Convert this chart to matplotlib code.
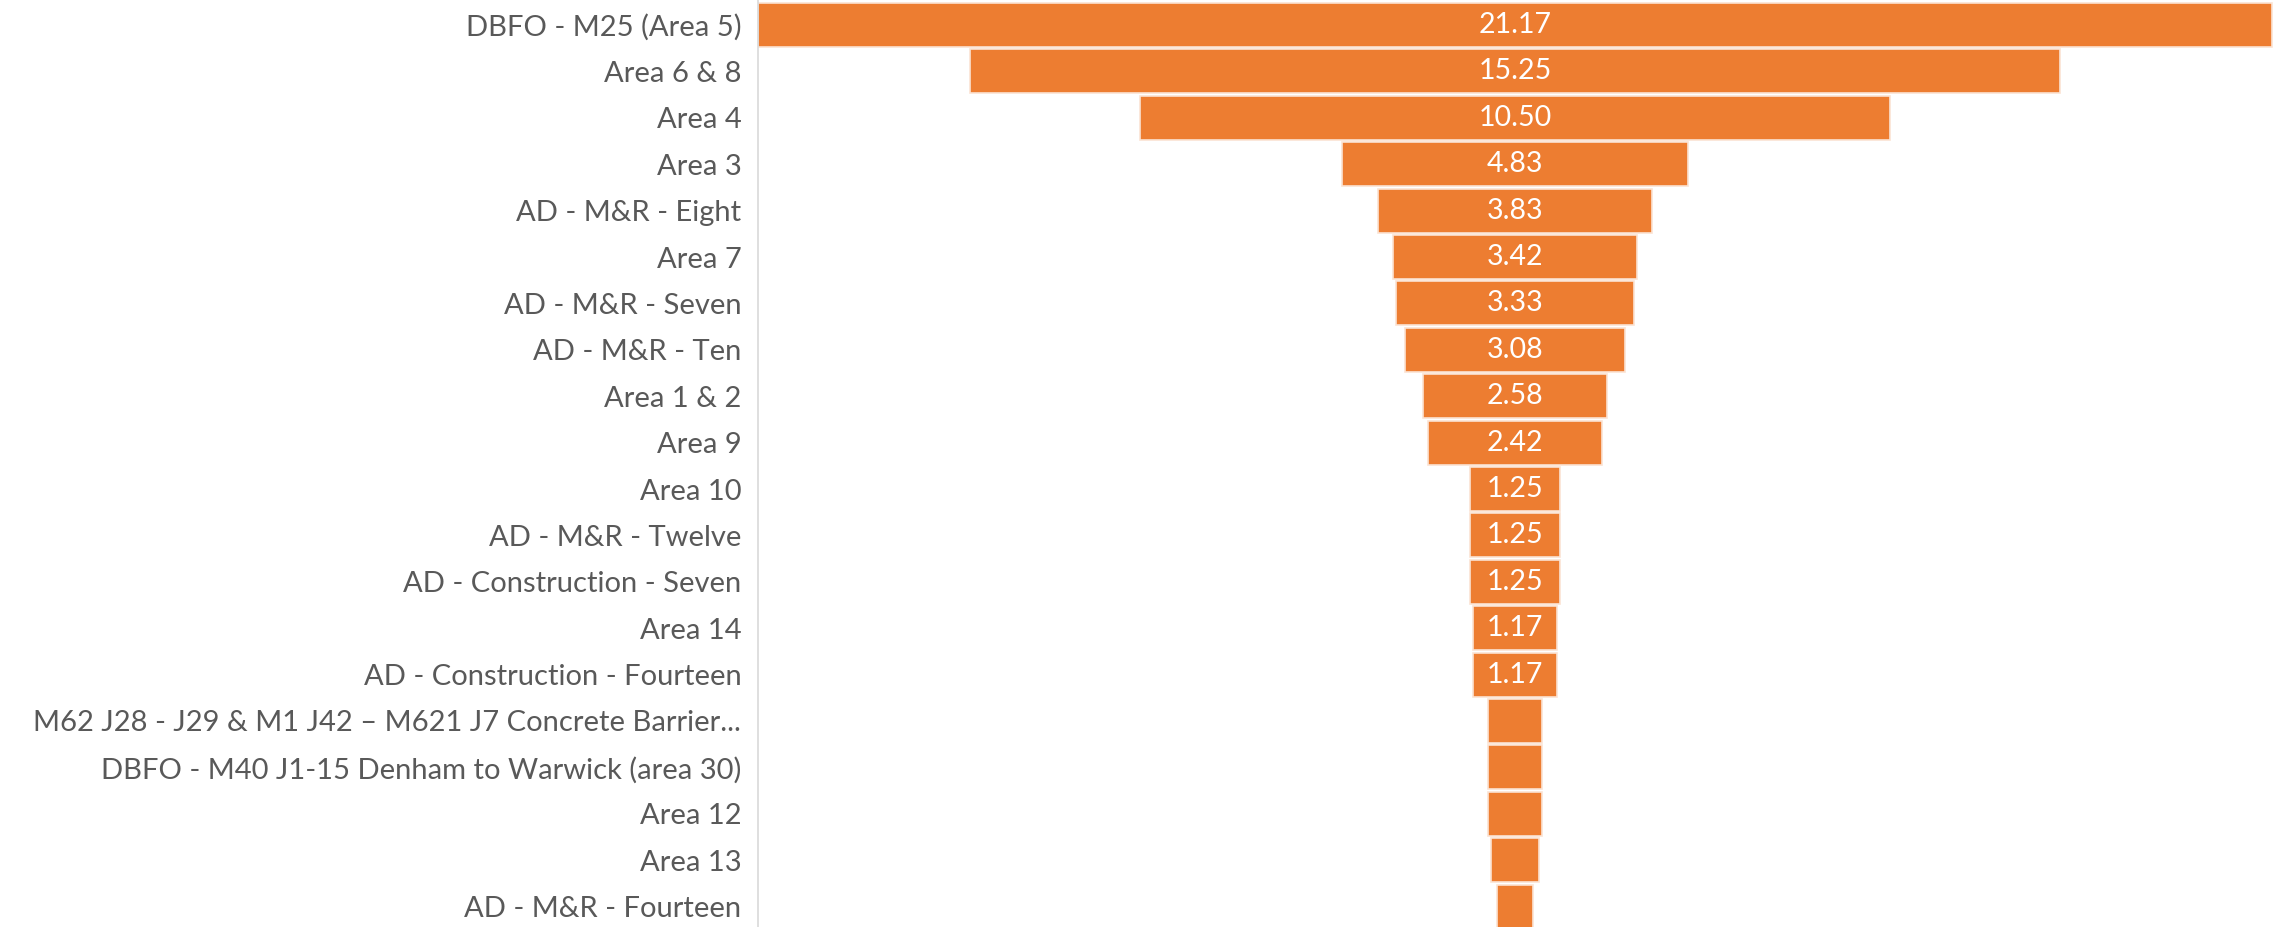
import matplotlib
matplotlib.use("Agg")
import matplotlib.pyplot as plt

# funnel data, top to bottom
categories = [
    "DBFO - M25 (Area 5)",
    "Area 6 & 8",
    "Area 4",
    "Area 3",
    "AD - M&R - Eight",
    "Area 7",
    "AD - M&R - Seven",
    "AD - M&R - Ten",
    "Area 1 & 2",
    "Area 9",
    "Area 10",
    "AD - M&R - Twelve",
    "AD - Construction - Seven",
    "Area 14",
    "AD - Construction - Fourteen",
    "M62 J28 - J29 & M1 J42 \u2013 M621 J7 Concrete Barrier...",
    "DBFO - M40 J1-15 Denham to Warwick (area 30)",
    "Area 12",
    "Area 13",
    "AD - M&R - Fourteen",
]
values = [21.17, 15.25, 10.50, 4.83, 3.83, 3.42, 3.33, 3.08, 2.58, 2.42,
          1.25, 1.25, 1.25, 1.17, 1.17, 0.75, 0.75, 0.75, 0.67, 0.50]

plt.rcParams["font.family"] = ["Lato", "DejaVu Sans"]

fig = plt.figure(figsize=(22.77, 9.27), dpi=100)
ax = fig.add_axes([758 / 2277, 0, 1 - 758 / 2277, 1])

ypos = list(range(len(values)))
lefts = [-v / 2 for v in values]
ax.barh(ypos, values, left=lefts, height=0.95, color="#ED7D31",
        edgecolor="#FBE3D3", linewidth=1.2)

# value labels (small bars have none)
for y, v in zip(ypos, values):
    if v >= 1:
        ax.text(0, y, "{:.2f}".format(v), ha="center", va="center",
                color="white", fontsize=20.5)

ax.set_yticks(ypos)
ax.set_yticklabels(categories, fontsize=21, color="#595959")
ax.tick_params(axis="y", length=0, pad=12)
ax.set_xticks([])

ax.set_xlim(-values[0] / 2, values[0] / 2 + 0.07)
ax.set_ylim(19.44, -0.54)

for s in ["top", "right", "bottom"]:
    ax.spines[s].set_visible(False)
ax.spines["left"].set_color("#D9D9D9")
ax.spines["left"].set_linewidth(1.2)

fig.savefig("out.png", dpi=100)
